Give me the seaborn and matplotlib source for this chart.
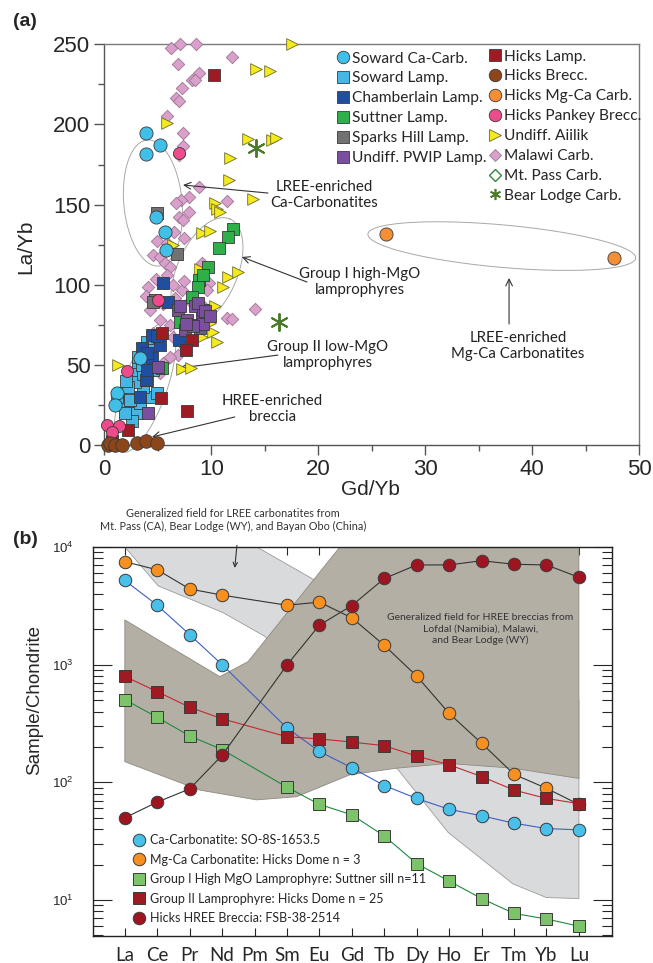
import numpy as np
import matplotlib
matplotlib.use("Agg")
import matplotlib.pyplot as plt
import seaborn as sns
from matplotlib.lines import Line2D

sns.set_theme(style="ticks")
plt.rcParams['font.family'] = ['Liberation Sans', 'DejaVu Sans']
ANN = ['Lato', 'DejaVu Sans']

# ---------------- Panel (a) data: Gd/Yb vs La/Yb ----------------
malawi_x = [6.2, 7.1, 8.57, 11.96, 6.88, 8.85, 8.16, 8.47, 7.29, 6.70, 6.98, 5.89, 7.32, 7.32, 6.98,
            8.88, 11.43, 7.88, 7.13, 6.67, 7.88, 6.98, 7.38, 6.48, 7.41, 4.89, 5.83, 4.58, 5.2, 5.67,
            6.14, 9.75, 9.1, 4.8, 4.11, 6.45, 3.86, 7.23, 7.48, 9.31, 14.1, 11.5, 11.96, 5.2, 6.14,
            6.45, 6.92, 6.14, 5.51, 5.2, 7.54, 4.58, 4.27, 7.07, 9.56, 5.5, 6.6, 8.0, 4.9, 5.9]
malawi_y = [247.5, 250, 250, 241.8, 237.6, 232, 228, 227.6, 222.5, 216.8, 214.8, 205.4, 194.4, 186.7, 180.9,
            160.9, 152.4, 154.9, 152.8, 150.7, 145.3, 142, 140.3, 132.6, 129.1, 127.4, 125.8, 118.7, 117.5, 113.7,
            111.2, 101, 113.3, 103.3, 98.8, 99.8, 92.9, 96.7, 102.5, 86.3, 85, 79.4, 78.4, 78, 74.8,
            67.6, 56.1, 55.1, 50.9, 44.7, 61.3, 69.6, 84.2, 80, 96.7, 88, 92, 90, 62, 106]
aiilik_x = [17.57, 14.23, 15.48, 5.89, 13.46, 15.64, 16.1, 11.74, 11.68, 13.93, 10.34, 10.5, 10.81, 9.1, 9.88,
            11.59, 12.52, 11.06, 10.34, 10.12, 10.5, 9.1, 7.23, 8.1, 1.31, 6.45, 8.94, 9.88]
aiilik_y = [250, 234.3, 233.3, 200.6, 190.9, 190.2, 191.3, 178.8, 165.3, 153.2, 150.7, 147, 145.5, 132, 133.6,
            104.6, 108.1, 98.8, 86.7, 70.7, 64.4, 67.6, 47.2, 47.8, 49.9, 124.7, 109.6, 75.9]
soward_lamp_x = [3.96, 4.27, 3.18, 2.71, 1.47, 1.31, 2.09, 3.03, 2.56, 4.27, 4.9, 3.65, 2.87, 3.65, 2.25,
                 1.78, 3.34, 3.96, 4.58, 3.18, 1.93, 1.16, 2.4, 3.5, 2.0]
soward_lamp_y = [64.4, 59.3, 48.8, 44.6, 32.2, 26.1, 22, 19.8, 14.7, 30.1, 32.2, 36.4, 39.5, 44.6, 36.4,
                 26.1, 26.1, 40.6, 46.8, 55.1, 19.8, 30.1, 28, 50, 40]
chamberlain_x = [5.51, 5.98, 4.42, 5.2, 3.5, 4.42, 3.86, 3.34, 6.99, 4.9, 3.96, 4.0]
chamberlain_y = [100.8, 89.4, 68.6, 62.4, 60.4, 54.1, 40.6, 30.2, 65.6, 67.7, 57.3, 47]
suttner_x = [12.0, 11.59, 10.72, 9.72, 8.85, 8.78, 8.16, 5.36, 7.07, 9.2]
suttner_y = [134.5, 130, 122.6, 111.2, 102.9, 98.3, 92.5, 48.2, 76.9, 106]
sparks_x = [4.89, 6.82, 4.73, 4.58]
sparks_y = [144.5, 119.1, 90.4, 89.5]
pwip_x = [6.85, 8.47, 9.1, 8.32, 7.54, 8.94, 4.11, 7.7, 9.25, 7.1, 8.74, 9.37, 9.21, 8.28, 7.65, 9.88, 5.05]
pwip_y = [84.2, 86.7, 79, 74.8, 71.7, 72.8, 20.2, 78, 84, 86.7, 88.8, 83.6, 75.3, 74.3, 75.3, 80.5, 48.8]
hicks_lamp_x = [10.22, 5.36, 8.22, 7.6, 5.27, 7.76, 2.21, 0.69]
hicks_lamp_y = [230.8, 69.6, 65.5, 59.3, 29.5, 21.4, 9.4, 2.7]
soward_cc_x = [3.89, 5.23, 3.86, 4.8, 5.7, 5.73, 3.33, 1.15, 1.0]
soward_cc_y = [194.4, 187.3, 181.3, 142.4, 133, 121.6, 54, 32.2, 25]
pankey_x = [6.98, 5.0, 2.09, 0.28, 1.4, 0.69]
pankey_y = [182.3, 90.6, 46.4, 12.5, 11.9, 8.3]
brecc_x = [0.3, 0.53, 1.0, 1.62, 3.08, 3.86, 4.95]
brecc_y = [0.0, 1.0, 0.0, 0.0, 1.0, 2.7, 1.0]
mgca_x = [26.3, 47.7]
mgca_y = [131.6, 116.5]
bear_x = [14.14, 16.32]
bear_y = [185.0, 76.9]

# ---------------- Panel (b) data: chondrite-normalised REE ----------------
ree = ['La', 'Ce', 'Pr', 'Nd', 'Pm', 'Sm', 'Eu', 'Gd', 'Tb', 'Dy', 'Ho', 'Er', 'Tm', 'Yb', 'Lu']
nan = np.nan
ca_carb = [5200, 3200, 1800, 1000, nan, 290, 183, 133, 94, 73, 59, 52, 45, 40.5, 39.5]
mgca_carb = [7500, 6400, 4400, 3900, nan, 3200, 3400, 2500, 1460, 800, 385, 215, 117, 89, 65]
group1 = [505, 357, 248, 190, nan, 91, 65, 53, 35, 20.4, 14.5, 10.3, 7.7, 6.9, 6.0]
group2 = [795, 590, 435, 347, nan, 244, 234, 220, 205, 167, 141, 112, 86, 73, 66]
breccia = [50, 68, 88, 170, nan, 995, 2170, 3180, 5400, 7040, 7040, 7650, 7130, 7040, 5530]

# generalized fields (REE index, value)
lree_field_x = [0, 4.07, 5.75, 8.0, 14, 14, 13.0, 11.97, 9.97, 8.38, 6.0, 4.32, 3.03, 1.03]
lree_field_y = [1e4, 1e4, 5430, 2000, 500, 10.3, 10.5, 13.7, 37.5, 133, 600, 1740, 2770, 4670]
hree_field_x = [6.63, 14, 14, 11.97, 9.97, 8.38, 6.94, 5.29, 4.06, 2.31, 0, 0, 2.93, 3.8]
hree_field_y = [1e4, 1e4, 108, 132, 145, 132, 116, 75.5, 71, 86, 150, 2400, 791, 1062]

W, H = 653, 963
fig = plt.figure(figsize=(W / 100, H / 100), dpi=100)


def rect(l, r, t, b):
    return [l / W, 1 - b / H, (r - l) / W, (b - t) / H]


# =================== Panel (a) ===================
ax = fig.add_axes(rect(104.3, 639, 44.3, 445))
EC = '#3a3a3a'
groups = [
    (malawi_x, malawi_y, 'D', 40, '#d9a0cb', '#9c7492', 0.6),
    (aiilik_x, aiilik_y, '>', 70, '#f4ea1c', '#6b6a30', 0.6),
    (soward_lamp_x, soward_lamp_y, 's', 75, '#46b6e4', EC, 0.6),
    (chamberlain_x, chamberlain_y, 's', 75, '#1f4f9e', EC, 0.6),
    (suttner_x, suttner_y, 's', 75, '#2faf4a', EC, 0.6),
    (sparks_x, sparks_y, 's', 75, '#727272', EC, 0.6),
    (pwip_x, pwip_y, 's', 75, '#7b4fa0', EC, 0.6),
    (hicks_lamp_x, hicks_lamp_y, 's', 75, '#9e1b24', EC, 0.6),
    (soward_cc_x, soward_cc_y, 'o', 90, '#40bfe9', EC, 0.6),
    (pankey_x, pankey_y, 'o', 75, '#ee4b8c', EC, 0.6),
    (brecc_x, brecc_y, 'o', 95, '#8c461a', EC, 0.6),
    (mgca_x, mgca_y, 'o', 90, '#f68e33', EC, 0.6),
]
for i, (gx, gy, m, s, fc, ec, lw) in enumerate(groups):
    sns.scatterplot(x=gx, y=gy, ax=ax, marker=m, s=s, color=fc, edgecolor=ec,
                    linewidth=lw, clip_on=False, zorder=3 + i * 0.1, legend=False)
sns.scatterplot(x=bear_x, y=bear_y, ax=ax, marker=(6, 2, 0), s=150, color='#4b7a2b',
                edgecolor='#4b7a2b', linewidth=1.4, clip_on=False, zorder=5, legend=False)


def ellipse(ax, c, a, b):
    t = np.linspace(0, 2 * np.pi, 240)
    ax.plot(c[0] + a[0] * np.cos(t) + b[0] * np.sin(t),
            c[1] + a[1] * np.cos(t) + b[1] * np.sin(t),
            color='#a8a8a8', lw=0.7, clip_on=False, zorder=2)


ellipse(ax, (4.55, 151), (-0.56, 39.3), (2.71, 1.87))
ellipse(ax, (9.6, 107.9), (2.15, 33.1), (2.59, -7.49))
ellipse(ax, (3.8, 36.2), (2.15, 40.5), (1.93, -4.55))
ellipse(ax, (37.17, 124.1), (12.52, -7.49), (-0.18, -13.2))

ax.set_xlim(0, 50)
ax.set_ylim(0, 250)
ax.set_xticks(range(0, 51, 10))
ax.set_xticks(range(5, 50, 10), minor=True)
ax.set_yticks(range(0, 251, 50))
ax.set_yticks(range(25, 250, 50), minor=True)
for sp in ax.spines.values():
    sp.set_color('#7a7a7a')
    sp.set_linewidth(1.0)
ax.spines['left'].set_color('#555555')
ax.spines['bottom'].set_color('#555555')
ax.tick_params(which='major', direction='out', length=7, width=1, color='#555555',
               labelsize=16, pad=3, top=False, right=False)
ax.tick_params(which='minor', direction='out', length=4, width=1, color='#555555',
               top=False, right=False)
ax.set_xlabel('Gd/Yb', fontsize=15)
ax.set_ylabel('La/Yb', fontsize=15)
ax.xaxis.set_label_coords(0.497, -0.088)
ax.yaxis.set_label_coords(-0.13, 0.495)

# annotations
akw = dict(arrowstyle='->', color='#333333', lw=0.8, shrinkA=0, shrinkB=0)
tkw = dict(fontsize=10.8, family=ANN, ha='center', va='center', color='#222222',
           linespacing=1.15)
ax.text(20.6, 156, 'LREE-enriched\nCa-Carbonatites', **tkw)
ax.annotate('', xy=(7.36, 162.2), xytext=(15.3, 157.2), arrowprops=akw)
ax.text(23.9, 101.7, 'Group I high-MgO\nlamprophyres', **tkw)
ax.annotate('', xy=(12.87, 117.3), xytext=(18.95, 101.7), arrowprops=akw)
ax.text(20.9, 56.1, 'Group II low-MgO\nlamprophyres', **tkw)
ax.annotate('', xy=(7.07, 48), xytext=(16.23, 56.1), arrowprops=akw)
ax.text(15.7, 22.5, 'HREE-enriched\nbreccia', **tkw)
ax.annotate('', xy=(4.46, 5), xytext=(12.2, 17.5), arrowprops=akw)
ax.text(38.7, 61.8, 'LREE-enriched\nMg-Ca Carbonatites', **tkw)
ax.annotate('', xy=(37.85, 104.2), xytext=(37.85, 75.5), arrowprops=akw)

# legends
def h(m, fc, ec=EC, ms=8.5, mew=0.6):
    return Line2D([], [], ls='', marker=m, markersize=ms, markerfacecolor=fc,
                  markeredgecolor=ec, markeredgewidth=mew)

leg1_handles = [h('o', '#40bfe9', ms=9), h('s', '#46b6e4'), h('s', '#1f4f9e'), h('s', '#2faf4a'),
                h('s', '#727272'), h('s', '#7b4fa0')]
leg1_labels = ['Soward Ca-Carb.', 'Soward Lamp.', 'Chamberlain Lamp.', 'Suttner Lamp.',
               'Sparks Hill Lamp.', 'Undiff. PWIP Lamp.']
leg2_handles = [h('s', '#9e1b24'), h('o', '#8c461a', ms=9), h('o', '#f68e33', ms=9),
                h('o', '#ee4b8c', ms=9), h('>', '#f4ea1c', '#6b6a30', ms=8),
                h('D', '#d9a0cb', '#9c7492', ms=6.5), h('D', 'white', '#2e8b3a', ms=6.5, mew=1.0),
                Line2D([], [], ls='', marker=(6, 2, 0), markersize=8, color='#4b7a2b',
                       markeredgewidth=1.2)]
leg2_labels = ['Hicks Lamp.', 'Hicks Brecc.', 'Hicks Mg-Ca Carb.', 'Hicks Pankey Brecc.',
               'Undiff. Aiilik', 'Malawi Carb.', 'Mt. Pass Carb.', 'Bear Lodge Carb.']
lkw = dict(frameon=False, handlelength=0.9, handletextpad=0.15, borderpad=0, borderaxespad=0,
           labelspacing=0.38, prop={'family': ANN, 'size': 11.2})
L1 = ax.legend(leg1_handles, leg1_labels, loc='upper left', bbox_to_anchor=(0.433, 0.982), **lkw)
ax.add_artist(L1)
ax.legend(leg2_handles, leg2_labels, loc='upper left', bbox_to_anchor=(0.717, 0.987), **lkw)

fig.text(13 / W, 1 - 22 / H, '(a)', fontsize=14, fontweight='bold', va='center', ha='left')

# =================== Panel (b) ===================
bx = fig.add_axes(rect(92.7, 612, 547, 936))
idx = np.arange(len(ree))
bx.fill(lree_field_x, lree_field_y, facecolor='#d9dadb', edgecolor='#9a9a9a', lw=0.6, zorder=1)
bx.fill(hree_field_x, hree_field_y, facecolor='#b4afa5', edgecolor='#8f8a80', lw=0.6, zorder=1.5)

series = [
    (ca_carb, '#3d5fc4', 'o', '#49c0ea', 'Ca-Carbonatite: SO-8S-1653.5'),
    (mgca_carb, '#333333', 'o', '#f7901f', 'Mg-Ca Carbonatite: Hicks Dome n = 3'),
    (group1, '#1e8a3e', 's', '#7dc36a', 'Group I High MgO Lamprophyre: Suttner sill n=11'),
    (group2, '#c8262f', 's', '#9e1b24', 'Group II Lamprophyre: Hicks Dome n = 25'),
    (breccia, '#333333', 'o', '#9e1420', 'Hicks HREE Breccia: FSB-38-2514'),
]
handles_b = []
for k, (vals, lc, m, fc, lab) in enumerate(series):
    v = np.array(vals, dtype=float)
    ok = ~np.isnan(v)
    ms = 9 if m == 'o' else 8.2
    sns.lineplot(x=idx[ok], y=v[ok], ax=bx, color=lc, lw=0.8, marker=m, markersize=ms,
                 markerfacecolor=fc, markeredgecolor='#3a3a3a', markeredgewidth=0.7,
                 errorbar=None, zorder=3 + k * 0.1, clip_on=False, legend=False)
    handles_b.append(Line2D([], [], ls='', marker=m, markersize=ms, markerfacecolor=fc,
                            markeredgecolor='#3a3a3a', markeredgewidth=0.7))

bx.set_yscale('log')
bx.set_ylim(4.95, 1e4)
bx.set_xlim(-0.99, 15.02)
bx.set_xticks(idx)
bx.set_xticklabels(ree, family=ANN)
bx.yaxis.set_major_locator(matplotlib.ticker.LogLocator(base=10, numticks=10))
bx.yaxis.set_minor_locator(matplotlib.ticker.LogLocator(base=10, subs=np.arange(2, 10), numticks=20))
bx.yaxis.set_minor_formatter(matplotlib.ticker.NullFormatter())
for sp in bx.spines.values():
    sp.set_color('#222222')
    sp.set_linewidth(1.0)
bx.tick_params(axis='x', which='major', direction='in', length=6, width=0.8, top=True,
               bottom=True, labelsize=13.5, pad=8)
bx.tick_params(axis='y', which='major', direction='in', length=14, width=0.8, left=True,
               right=True, labelsize=9.5, pad=14)
bx.tick_params(axis='y', which='minor', direction='in', length=7.5, width=0.8, left=True,
               right=True)
bx.set_ylabel('Sample/Chondrite', fontsize=13.5)
bx.yaxis.set_label_coords(-0.096, 0.607)

bx.legend(handles_b, [s[4] for s in series], loc='lower left', bbox_to_anchor=(0.074, 0.03),
          frameon=False, handlelength=1.2, handletextpad=0.3, borderpad=0, borderaxespad=0,
          labelspacing=0.6, prop={'family': ANN, 'size': 9.0})

bx.text(10.96, 2010, 'Generalized field for HREE breccias from\nLofdal (Namibia), Malawi,\nand Bear Lodge (WY)',
        ha='center', va='center', fontsize=7.5, family=ANN, color='#333333', linespacing=1.3, zorder=2)
bx.annotate('Generalized field for LREE carbonatites from\nMt. Pass (CA), Bear Lodge (WY), and Bayan Obo (China)',
            xy=(3.39, 6640), xytext=(3.33, 16950), ha='center', va='center', fontsize=7.8,
            family=ANN, color='#333333', linespacing=1.3, annotation_clip=False,
            arrowprops=dict(arrowstyle='->', color='#333333', lw=0.8, shrinkA=7, shrinkB=0,
                            relpos=(0.52, 0.0)))

fig.text(13 / W, 1 - 540 / H, '(b)', fontsize=14, fontweight='bold', va='center', ha='left')

fig.savefig('out.png', dpi=100)
